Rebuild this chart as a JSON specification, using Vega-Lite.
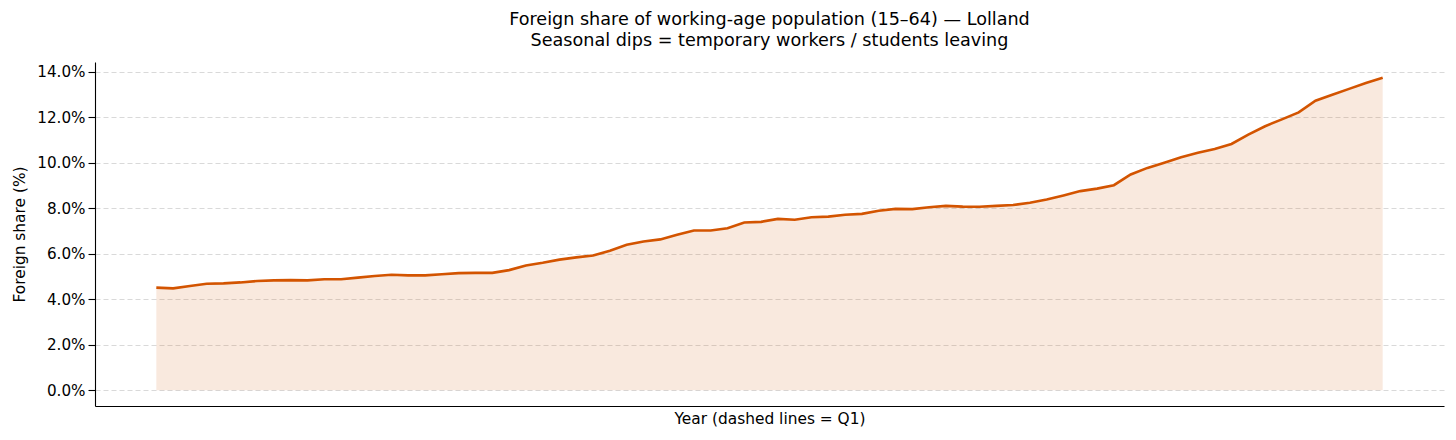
{
  "$schema": "https://vega.github.io/schema/vega-lite/v6.json",
  "width": 1349,
  "height": 344,
  "autosize": {"type": "none"},
  "padding": {"left": 95, "top": 62, "right": 12, "bottom": 34},
  "background": "white",
  "title": {
    "text": ["Foreign share of working-age population (15–64) — Lolland", "Seasonal dips = temporary workers / students leaving"],
    "font": "DejaVu Sans",
    "fontSize": 17.6,
    "fontWeight": "normal",
    "color": "black",
    "lineHeight": 21,
    "anchor": "middle",
    "offset": 12
  },
  "config": {
    "view": {"stroke": null},
    "font": "DejaVu Sans"
  },
  "data": {
    "values": [
      {"q": 0, "share": 4.51}, {"q": 1, "share": 4.48}, {"q": 2, "share": 4.58}, {"q": 3, "share": 4.68},
      {"q": 4, "share": 4.70}, {"q": 5, "share": 4.74}, {"q": 6, "share": 4.80}, {"q": 7, "share": 4.83},
      {"q": 8, "share": 4.84}, {"q": 9, "share": 4.83}, {"q": 10, "share": 4.88}, {"q": 11, "share": 4.88},
      {"q": 12, "share": 4.95}, {"q": 13, "share": 5.02}, {"q": 14, "share": 5.08}, {"q": 15, "share": 5.05},
      {"q": 16, "share": 5.05}, {"q": 17, "share": 5.10}, {"q": 18, "share": 5.15}, {"q": 19, "share": 5.16},
      {"q": 20, "share": 5.16}, {"q": 21, "share": 5.28}, {"q": 22, "share": 5.48}, {"q": 23, "share": 5.60},
      {"q": 24, "share": 5.74}, {"q": 25, "share": 5.84}, {"q": 26, "share": 5.92}, {"q": 27, "share": 6.13},
      {"q": 28, "share": 6.39}, {"q": 29, "share": 6.54}, {"q": 30, "share": 6.63}, {"q": 31, "share": 6.83},
      {"q": 32, "share": 7.02}, {"q": 33, "share": 7.02}, {"q": 34, "share": 7.12}, {"q": 35, "share": 7.37},
      {"q": 36, "share": 7.40}, {"q": 37, "share": 7.53}, {"q": 38, "share": 7.49}, {"q": 39, "share": 7.60},
      {"q": 40, "share": 7.63}, {"q": 41, "share": 7.71}, {"q": 42, "share": 7.75}, {"q": 43, "share": 7.89},
      {"q": 44, "share": 7.97}, {"q": 45, "share": 7.96}, {"q": 46, "share": 8.04}, {"q": 47, "share": 8.10},
      {"q": 48, "share": 8.07}, {"q": 49, "share": 8.06}, {"q": 50, "share": 8.10}, {"q": 51, "share": 8.14},
      {"q": 52, "share": 8.24}, {"q": 53, "share": 8.38}, {"q": 54, "share": 8.56}, {"q": 55, "share": 8.75},
      {"q": 56, "share": 8.86}, {"q": 57, "share": 9.01}, {"q": 58, "share": 9.48}, {"q": 59, "share": 9.77},
      {"q": 60, "share": 10.00}, {"q": 61, "share": 10.24}, {"q": 62, "share": 10.43}, {"q": 63, "share": 10.60},
      {"q": 64, "share": 10.82}, {"q": 65, "share": 11.23}, {"q": 66, "share": 11.60}, {"q": 67, "share": 11.90},
      {"q": 68, "share": 12.21}, {"q": 69, "share": 12.72}, {"q": 70, "share": 12.98}, {"q": 71, "share": 13.24},
      {"q": 72, "share": 13.50}, {"q": 73, "share": 13.73}
    ]
  },
  "encoding": {
    "x": {
      "field": "q",
      "type": "quantitative",
      "scale": {"domain": [-3.65, 76.65], "nice": false, "zero": false},
      "axis": {
        "title": "Year (dashed lines = Q1)",
        "labels": false,
        "ticks": false,
        "grid": false,
        "domainColor": "black",
        "domainWidth": 1.1,
        "titleFont": "DejaVu Sans",
        "titleFontSize": 15.4,
        "titleFontWeight": "normal",
        "titleColor": "black",
        "titlePadding": 5
      }
    },
    "y": {
      "field": "share",
      "type": "quantitative",
      "scale": {"domain": [-0.687, 14.42], "nice": false, "zero": false},
      "axis": {
        "title": "Foreign share (%)",
        "values": [0, 2, 4, 6, 8, 10, 12, 14],
        "labelExpr": "format(datum.value, '.1f') + '%'",
        "labelFont": "DejaVu Sans",
        "labelFontSize": 15.2,
        "labelColor": "black",
        "labelPadding": 3,
        "tickSize": 7,
        "tickColor": "black",
        "tickWidth": 1.1,
        "domainColor": "black",
        "domainWidth": 1.1,
        "grid": true,
        "gridColor": "#d9d9d9",
        "gridDash": [5, 3],
        "gridWidth": 1,
        "titleFont": "DejaVu Sans",
        "titleFontSize": 15.4,
        "titleFontWeight": "normal",
        "titleColor": "black",
        "titlePadding": 9
      }
    }
  },
  "layer": [
    {
      "mark": {"type": "area", "color": "#d35400", "opacity": 0.13}
    },
    {
      "mark": {"type": "line", "color": "#d35400", "strokeWidth": 2.6}
    }
  ]
}
